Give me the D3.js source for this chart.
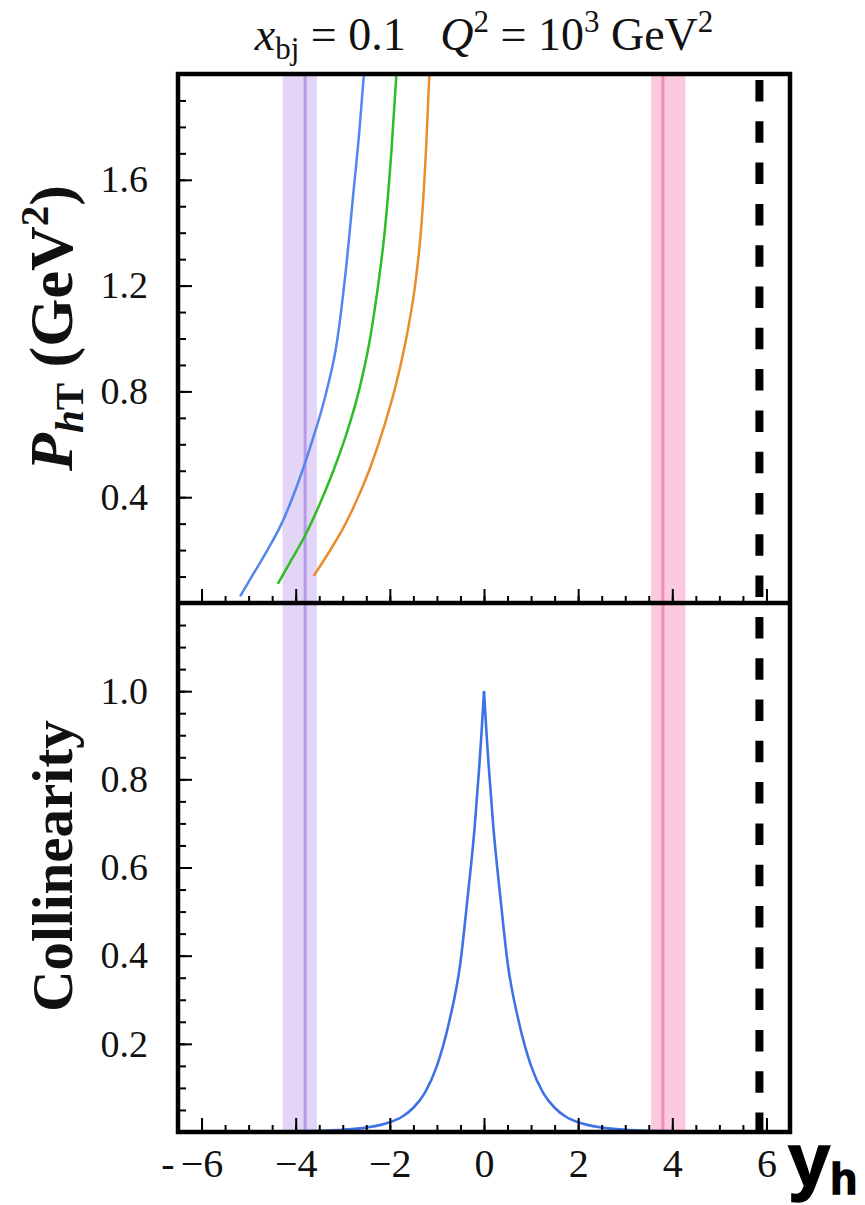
<!DOCTYPE html>
<html>
<head>
<meta charset="utf-8">
<script src="https://cdn.jsdelivr.net/npm/d3@7"></script>
<style>
  html, body { margin: 0; padding: 0; background: #fff; }
  svg { display: block; }
  text { white-space: pre; }
</style>
</head>
<body>
<svg id="chart" width="865" height="1205"></svg>
<script>
// Rapidity range and tick marks shared by both panels
const yhDomain = [-6.5, 6.5];
const yhMajorTicks = [-6, -4, -2, 0, 2, 4, 6];
const yhMinorTicks = d3.range(-6.5, 6.51, 0.5);

// Upper panel: P_hT (GeV^2) versus y_h
const pDomain = [0, 2];
const pMajorTicks = [0.4, 0.8, 1.2, 1.6];
const pMinorTicks = d3.range(0, 2.001, 0.1).map(v => +v.toFixed(2));

const blueYh = [-5.18, -4.90, -4.60, -4.30, -4.00, -3.70, -3.36, -3.13, -2.94, -2.78, -2.65, -2.55];
const blueP  = [0.025, 0.11, 0.20, 0.30, 0.43, 0.585, 0.79, 0.98, 1.25, 1.54, 1.78, 2.0];

const greenYh = [-4.38, -4.10, -3.80, -3.50, -3.20, -2.92, -2.66, -2.44, -2.25, -2.10, -1.97, -1.86];
const greenP  = [0.072, 0.16, 0.255, 0.37, 0.50, 0.64, 0.80, 0.98, 1.20, 1.42, 1.70, 2.0];

const orangeYh = [-3.62, -3.30, -3.00, -2.70, -2.40, -2.10, -1.85, -1.62, -1.45, -1.32, -1.23, -1.16];
const orangeP  = [0.102, 0.19, 0.28, 0.39, 0.52, 0.68, 0.84, 1.03, 1.22, 1.45, 1.72, 2.0];

// Lower panel: collinearity versus y_h
const cDomain = [0, 1.2];
const cMajorTicks = [0.2, 0.4, 0.6, 0.8, 1.0];
const cMinorTicks = d3.range(0, 1.201, 0.05).map(v => +v.toFixed(2));

const collYh = [-6.5, -5, -4, -3.5, -3, -2.5, -2, -1.75, -1.5, -1.25, -1.0, -0.75, -0.5, -0.35, -0.2, -0.1, -0.05, 0,
                0.05, 0.1, 0.2, 0.35, 0.5, 0.75, 1.0, 1.25, 1.5, 1.75, 2, 2.5, 3, 3.5, 4, 5, 6.5];
const collVal = [0, 0.0003, 0.0015, 0.003, 0.005, 0.01, 0.022, 0.034, 0.055, 0.09, 0.15, 0.245, 0.385, 0.53, 0.69, 0.83, 0.91, 1.0,
                 0.91, 0.83, 0.69, 0.53, 0.385, 0.245, 0.15, 0.09, 0.055, 0.034, 0.022, 0.01, 0.005, 0.003, 0.0015, 0.0003, 0];

// Vertical bands (shaded ranges with a central line) and the kinematic limit
const purpleBand = [-4.28, -3.55];
const purpleLine = -3.8;
const pinkBand = [3.55, 4.28];
const pinkLine = 3.8;
const yhLimit = 5.85;

// ---- layout ----
const left = 178, right = 790;
const topY = 74, midY = 603, botY = 1132;

const svg = d3.select("#chart");

const x = d3.scaleLinear().domain(yhDomain).range([left, right]);
const yTop = d3.scaleLinear().domain(pDomain).range([midY, topY]);
const yBot = d3.scaleLinear().domain(cDomain).range([botY, midY]);

const defs = svg.append("defs");
defs.append("clipPath").attr("id", "clipTop")
  .append("rect").attr("x", left).attr("y", topY).attr("width", right - left).attr("height", midY - topY);
defs.append("clipPath").attr("id", "clipBot")
  .append("rect").attr("x", left).attr("y", midY).attr("width", right - left).attr("height", botY - midY);

// Bands in both panels
[[topY, midY], [midY, botY]].forEach(([y0, y1]) => {
  svg.append("rect")
    .attr("x", x(purpleBand[0])).attr("y", y0)
    .attr("width", x(purpleBand[1]) - x(purpleBand[0])).attr("height", y1 - y0)
    .attr("fill", "#e2d5f6");
  svg.append("rect")
    .attr("x", x(pinkBand[0])).attr("y", y0)
    .attr("width", x(pinkBand[1]) - x(pinkBand[0])).attr("height", y1 - y0)
    .attr("fill", "#fcc9df");
  svg.append("line")
    .attr("x1", x(purpleLine)).attr("x2", x(purpleLine)).attr("y1", y0).attr("y2", y1)
    .attr("stroke", "#b59ae8").attr("stroke-width", 3);
  svg.append("line")
    .attr("x1", x(pinkLine)).attr("x2", x(pinkLine)).attr("y1", y0).attr("y2", y1)
    .attr("stroke", "#f48db6").attr("stroke-width", 3);
});

// Upper panel curves
const lineTop = d3.line().x(d => x(d[0])).y(d => yTop(d[1])).curve(d3.curveMonotoneX);
const topSeries = [
  { yh: blueYh, v: blueP, color: "#5486f0" },
  { yh: greenYh, v: greenP, color: "#2dbd25" },
  { yh: orangeYh, v: orangeP, color: "#ea8d2c" }
];
const gTop = svg.append("g").attr("clip-path", "url(#clipTop)");
topSeries.forEach(s => {
  gTop.append("path")
    .datum(d3.zip(s.yh, s.v))
    .attr("d", lineTop)
    .attr("fill", "none")
    .attr("stroke", s.color)
    .attr("stroke-width", 2.5);
});

// Lower panel: collinearity, drawn as two monotone branches meeting at the cusp
const lineBot = d3.line().x(d => x(d[0])).y(d => yBot(d[1])).curve(d3.curveMonotoneX);
const collPts = d3.zip(collYh, collVal);
const gBot = svg.append("g").attr("clip-path", "url(#clipBot)");
[collPts.filter(d => d[0] <= 0), collPts.filter(d => d[0] >= 0)].forEach(branch => {
  gBot.append("path")
    .datum(branch)
    .attr("d", lineBot)
    .attr("fill", "none")
    .attr("stroke", "#3f72e6")
    .attr("stroke-width", 2.6)
    .attr("stroke-linejoin", "round");
});

// Kinematic limit: thick dashed line through both panels
svg.append("line")
  .attr("x1", x(yhLimit)).attr("x2", x(yhLimit))
  .attr("y1", topY + 6).attr("y2", botY)
  .attr("stroke", "#000").attr("stroke-width", 8)
  .attr("stroke-dasharray", "21.5 19.8");

// ---- axes ----
function styleAxis(g, fontSize) {
  g.select(".domain").remove();
  g.selectAll(".tick line").attr("stroke", "#000").attr("stroke-width", 2);
  g.selectAll(".tick text")
    .attr("fill", "#111")
    .attr("font-family", "'Liberation Serif', 'DejaVu Serif', serif")
    .attr("font-size", fontSize);
}

// Upper panel, left axis
svg.append("g").attr("transform", `translate(${left + 2},0)`)
  .call(d3.axisLeft(yTop).tickValues(pMinorTicks).tickSize(-6).tickFormat(""))
  .call(g => styleAxis(g, 38));
svg.append("g").attr("transform", `translate(${left + 2},0)`)
  .call(d3.axisLeft(yTop).tickValues(pMajorTicks).tickSize(-12).tickPadding(32).tickFormat(d3.format(".1f")))
  .call(g => styleAxis(g, 38));

// Lower panel, left axis
svg.append("g").attr("transform", `translate(${left + 2},0)`)
  .call(d3.axisLeft(yBot).tickValues(cMinorTicks).tickSize(-6).tickFormat(""))
  .call(g => styleAxis(g, 38));
svg.append("g").attr("transform", `translate(${left + 2},0)`)
  .call(d3.axisLeft(yBot).tickValues(cMajorTicks).tickSize(-12).tickPadding(32).tickFormat(d3.format(".1f")))
  .call(g => styleAxis(g, 38));

// Upper panel, bottom ticks (no labels)
svg.append("g").attr("transform", `translate(0,${midY - 2})`)
  .call(d3.axisBottom(x).tickValues(yhMinorTicks).tickSize(-5).tickFormat(""))
  .call(g => styleAxis(g, 40));
svg.append("g").attr("transform", `translate(0,${midY - 2})`)
  .call(d3.axisBottom(x).tickValues(yhMajorTicks).tickSize(-12).tickFormat(""))
  .call(g => styleAxis(g, 40));

// Lower panel, bottom axis with labels
svg.append("g").attr("transform", `translate(0,${botY - 2})`)
  .call(d3.axisBottom(x).tickValues(yhMinorTicks).tickSize(-5).tickFormat(""))
  .call(g => styleAxis(g, 40));
svg.append("g").attr("transform", `translate(0,${botY - 2})`)
  .call(d3.axisBottom(x).tickValues(yhMajorTicks).tickSize(-12).tickPadding(19).tickFormat(d3.format("d")))
  .call(g => styleAxis(g, 40));

// Frame and panel divider
svg.append("rect")
  .attr("x", left).attr("y", topY)
  .attr("width", right - left).attr("height", botY - topY)
  .attr("fill", "none").attr("stroke", "#000").attr("stroke-width", 4.5);
svg.append("line")
  .attr("x1", left).attr("x2", right).attr("y1", midY).attr("y2", midY)
  .attr("stroke", "#000").attr("stroke-width", 4.5);

// ---- labels ----
const serif = "'Liberation Serif', 'DejaVu Serif', serif";

// Title
const title = svg.append("text")
  .attr("x", (left + right) / 2).attr("y", 50)
  .attr("text-anchor", "middle")
  .attr("font-family", serif).attr("font-size", 46).attr("fill", "#111");
title.append("tspan").attr("font-style", "italic").text("x");
title.append("tspan").attr("font-size", 31).attr("dy", 9).text("bj");
title.append("tspan").attr("dy", -9).text(" = 0.1   ");
title.append("tspan").attr("font-style", "italic").text("Q");
title.append("tspan").attr("font-size", 31).attr("dy", -18).text("2");
title.append("tspan").attr("dy", 18).text(" = 10");
title.append("tspan").attr("font-size", 31).attr("dy", -18).text("3");
title.append("tspan").attr("dy", 18).text(" GeV");
title.append("tspan").attr("font-size", 31).attr("dy", -18).text("2");

// Upper y label: P_hT (GeV^2)
const pLab = svg.append("text")
  .attr("transform", "translate(72,328) rotate(-90)")
  .attr("text-anchor", "middle")
  .attr("font-family", serif).attr("font-size", 62).attr("font-weight", "bold").attr("fill", "#111");
pLab.append("tspan").attr("font-style", "italic").text("P");
pLab.append("tspan").attr("font-size", 41).attr("font-style", "italic").attr("dy", 11).text("h");
pLab.append("tspan").attr("font-size", 41).text("T");
pLab.append("tspan").attr("dy", -11).text(" (GeV");
pLab.append("tspan").attr("font-size", 41).attr("dy", -24).text("2");
pLab.append("tspan").attr("dy", 24).text(")");

// Lower y label
svg.append("text")
  .attr("transform", "translate(72,866) rotate(-90)")
  .attr("text-anchor", "middle")
  .attr("font-family", serif).attr("font-size", 57).attr("font-weight", "bold").attr("fill", "#111")
  .text("Collinearity");

// x-axis label y_h
const xLab = svg.append("text")
  .attr("x", 788).attr("y", 1186)
  .attr("font-family", "'Liberation Sans', Arial, sans-serif").attr("font-weight", "bold")
  .attr("fill", "#000").attr("stroke", "#000").attr("stroke-width", 1.5);
xLab.append("tspan").attr("font-size", 76).text("y");
xLab.append("tspan").attr("font-size", 44).attr("dy", 8).text("h");

// Stray dash to the left of the first tick label
svg.append("text")
  .attr("x", 168).attr("y", 1177).attr("text-anchor", "middle")
  .attr("font-family", serif).attr("font-size", 40).attr("fill", "#111")
  .text("-");
</script>
</body>
</html>
